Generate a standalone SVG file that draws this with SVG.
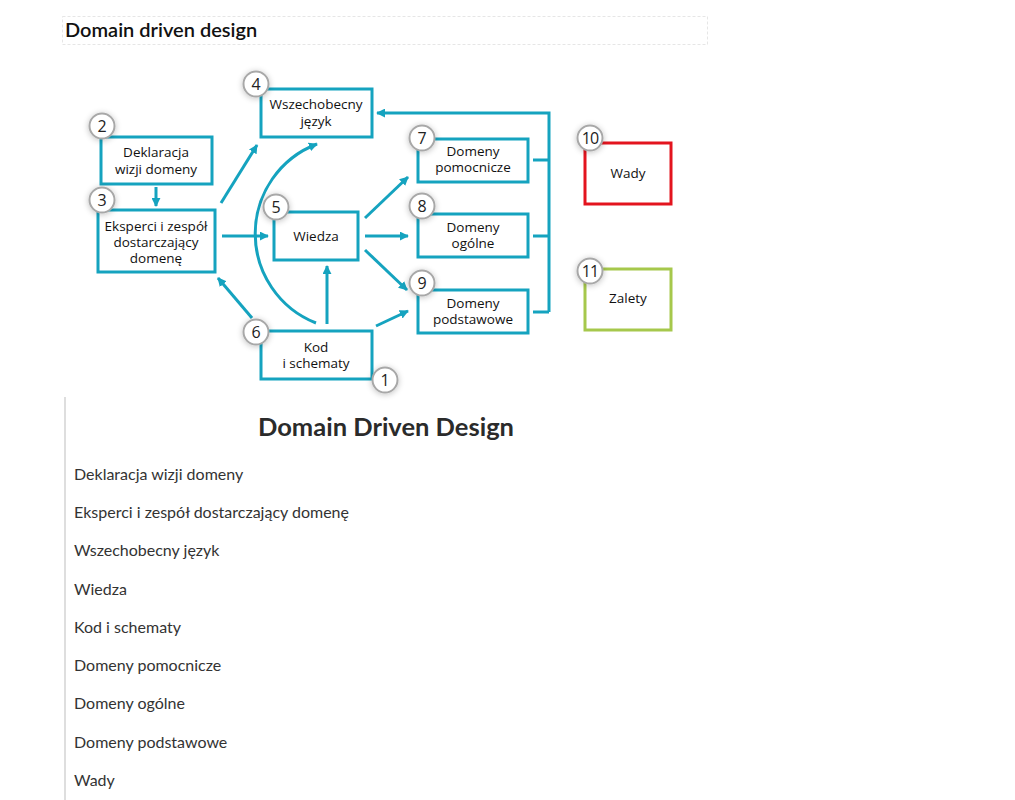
<svg xmlns="http://www.w3.org/2000/svg" width="1015" height="800" viewBox="0 0 1015 800">
<defs>
<marker id="ah" viewBox="0 0 10 10" refX="9" refY="5" markerWidth="9" markerHeight="9" markerUnits="userSpaceOnUse" orient="auto">
<path d="M0,0 L10,5 L0,10 Z" fill="#15a3bf"/>
</marker>
<filter id="sh" x="-60%" y="-60%" width="220%" height="220%">
<feGaussianBlur in="SourceAlpha" stdDeviation="3"/>
<feOffset dx="0" dy="1"/>
<feComponentTransfer><feFuncA type="linear" slope="0.25"/></feComponentTransfer>
<feMerge><feMergeNode/><feMergeNode in="SourceGraphic"/></feMerge>
</filter>
</defs>
<style>
.box{fill:#fff;stroke:#15a3bf;stroke-width:3}
.red{fill:#fff;stroke:#e3141e;stroke-width:3}
.grn{fill:#fff;stroke:#a6c84c;stroke-width:3}
.bt{font-family:"Open Sans","Noto Sans",sans-serif;font-size:13.5px;font-weight:500;fill:#111;text-anchor:middle}
.num circle{fill:#fff;stroke:#a8a8a8;stroke-width:2}
.nt{font-family:"Open Sans","Noto Sans",sans-serif;font-size:16px;fill:#222;text-anchor:middle}
.cn{fill:none;stroke:#15a3bf;stroke-width:3}
.ar{marker-end:url(#ah)}
.li{font-family:Lato,"Liberation Sans",sans-serif;font-size:16px;fill:#333}
</style>
<rect width="1015" height="800" fill="#fff"/>
<g id="title">
<rect x="62.5" y="16.5" width="645" height="28" fill="none" stroke="#e6e6e6" stroke-dasharray="3,2"/>
<text x="65" y="37" font-family="Lato,'Liberation Sans',sans-serif" font-size="20" font-weight="600" fill="#111">Domain driven design</text>
</g>
<g id="connectors">
<line class="cn ar" x1="156" y1="187" x2="156" y2="206"/>
<line class="cn ar" x1="221" y1="203" x2="257" y2="145"/>
<line class="cn ar" x1="222" y1="236" x2="268" y2="236"/>
<line class="cn ar" x1="252" y1="318" x2="218" y2="278"/>
<line class="cn ar" x1="327" y1="324" x2="327" y2="266"/>
<path class="cn ar" d="M316,323 A96,96 0 0 1 317,144"/>
<line class="cn ar" x1="365" y1="218" x2="408" y2="177"/>
<line class="cn ar" x1="365" y1="236" x2="408" y2="236"/>
<line class="cn ar" x1="365" y1="250" x2="407" y2="290"/>
<line class="cn ar" x1="376" y1="326" x2="408" y2="311"/>
<path class="cn" d="M533,160 H549 M533,236 H549 M533,312 H549"/>
<path class="cn ar" d="M549,312 V113 H377"/>
</g>
<g id="node1">
<rect class="box" x="261" y="331" width="111" height="48"/>
<text class="bt" x="316" y="352">Kod</text>
<text class="bt" x="316" y="368">i schematy</text>
<g class="num" filter="url(#sh)"><circle cx="385" cy="380" r="12.5"/></g>
<text class="nt" x="385" y="386">1</text>
</g>
<g id="node2">
<rect class="box" x="101" y="137" width="111" height="47"/>
<text class="bt" x="156" y="157">Deklaracja</text>
<text class="bt" x="156" y="174">wizji domeny</text>
<g class="num" filter="url(#sh)"><circle cx="102" cy="126" r="12.5"/></g>
<text class="nt" x="102" y="132">2</text>
</g>
<g id="node3">
<rect class="box" x="98" y="210" width="117" height="62"/>
<text class="bt" x="156" y="231">Eksperci i zespół</text>
<text class="bt" x="156" y="247">dostarczający</text>
<text class="bt" x="156" y="263">domenę</text>
<g class="num" filter="url(#sh)"><circle cx="102" cy="200" r="12.5"/></g>
<text class="nt" x="102" y="206">3</text>
</g>
<g id="node4">
<rect class="box" x="261" y="89" width="111" height="48"/>
<text class="bt" x="316" y="109">Wszechobecny</text>
<text class="bt" x="316" y="126">język</text>
<g class="num" filter="url(#sh)"><circle cx="256" cy="84" r="12.5"/></g>
<text class="nt" x="256" y="90">4</text>
</g>
<g id="node5">
<rect class="box" x="274" y="212" width="84" height="48"/>
<text class="bt" x="316" y="241">Wiedza</text>
<g class="num" filter="url(#sh)"><circle cx="276" cy="207" r="12.5"/></g>
<text class="nt" x="276" y="213">5</text>
</g>
<g id="node6">
<g class="num" filter="url(#sh)"><circle cx="256" cy="332" r="12.5"/></g>
<text class="nt" x="256" y="338">6</text>
</g>
<g id="node7">
<rect class="box" x="418" y="139" width="110" height="43"/>
<text class="bt" x="473" y="156">Domeny</text>
<text class="bt" x="473" y="172">pomocnicze</text>
<g class="num" filter="url(#sh)"><circle cx="422" cy="138" r="12.5"/></g>
<text class="nt" x="422" y="144">7</text>
</g>
<g id="node8">
<rect class="box" x="418" y="214" width="110" height="43"/>
<text class="bt" x="473" y="232">Domeny</text>
<text class="bt" x="473" y="248">ogólne</text>
<g class="num" filter="url(#sh)"><circle cx="422" cy="206" r="12.5"/></g>
<text class="nt" x="422" y="212">8</text>
</g>
<g id="node9">
<rect class="box" x="418" y="290" width="110" height="43"/>
<text class="bt" x="473" y="308">Domeny</text>
<text class="bt" x="473" y="324">podstawowe</text>
<g class="num" filter="url(#sh)"><circle cx="422" cy="283" r="12.5"/></g>
<text class="nt" x="422" y="289">9</text>
</g>
<g id="node10">
<rect class="red" x="585" y="143" width="86" height="61"/>
<text class="bt" x="628" y="178">Wady</text>
<g class="num" filter="url(#sh)"><circle cx="590" cy="138" r="12.5"/></g>
<text class="nt" x="590" y="144" letter-spacing="-1">10</text>
</g>
<g id="node11">
<rect class="grn" x="585" y="269" width="86" height="61"/>
<text class="bt" x="628" y="303">Zalety</text>
<g class="num" filter="url(#sh)"><circle cx="590" cy="271" r="12.5"/></g>
<text class="nt" x="590" y="277" letter-spacing="-1">11</text>
</g>
<g id="list">
<line x1="65" y1="397" x2="65" y2="800" stroke="#dedede" stroke-width="2"/>
<text x="386" y="436" text-anchor="middle" font-family="Lato,'Liberation Sans',sans-serif" font-size="25.5" font-weight="bold" fill="#2b2b2b">Domain Driven Design</text>
<text class="li" x="74" y="480">Deklaracja wizji domeny</text>
<text class="li" x="74" y="518">Eksperci i zespół dostarczający domenę</text>
<text class="li" x="74" y="556">Wszechobecny język</text>
<text class="li" x="74" y="595">Wiedza</text>
<text class="li" x="74" y="633">Kod i schematy</text>
<text class="li" x="74" y="671">Domeny pomocnicze</text>
<text class="li" x="74" y="709">Domeny ogólne</text>
<text class="li" x="74" y="748">Domeny podstawowe</text>
<text class="li" x="74" y="786">Wady</text>
</g>
</svg>
